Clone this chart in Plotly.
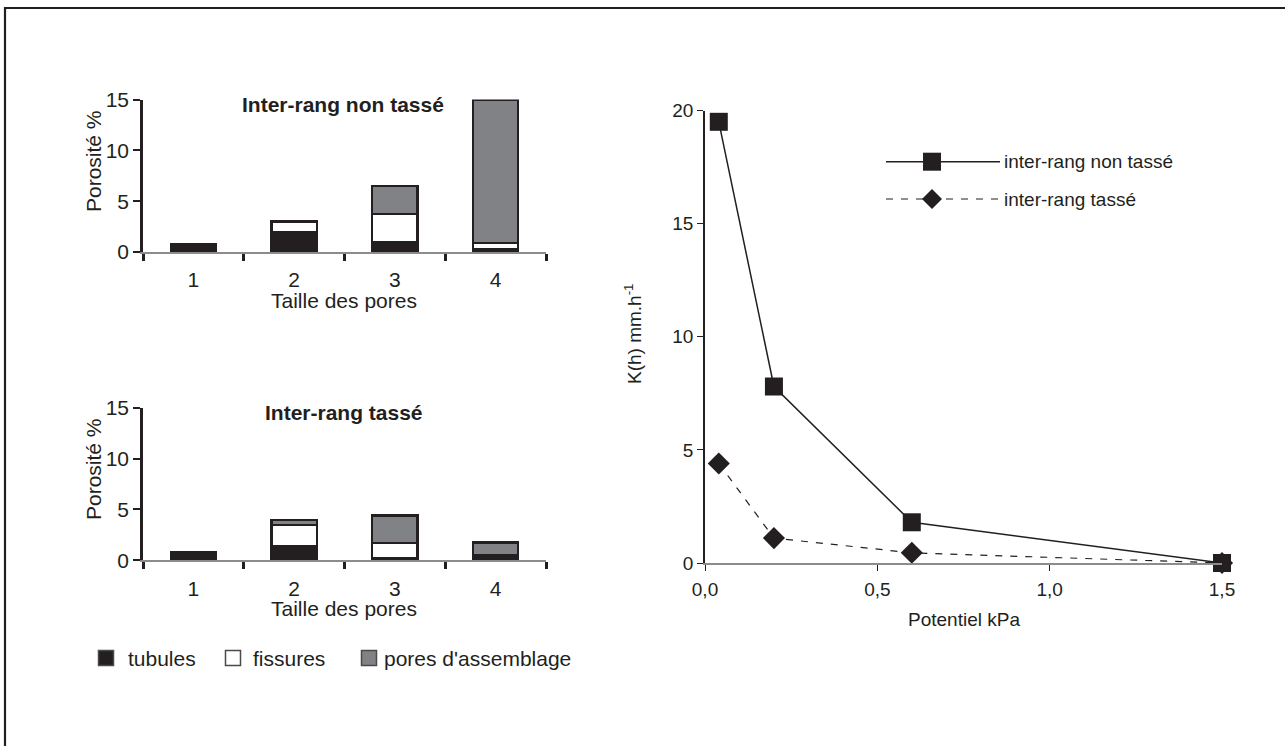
import plotly.graph_objects as go

W, H = 1285, 746


def px(x):
    """pixel x -> paper fraction"""
    return x / W


def py(y):
    """pixel y (from top) -> paper fraction"""
    return 1 - y / H


INK = "#231f20"
AXIS_GREY = "#8c8c8c"
FONT = "Liberation Sans, Arial, Helvetica, sans-serif"

# ---------------- data ----------------
pore_sizes = ["1", "2", "3", "4"]
# Inter-rang non tassé (porosité %)
nt_tubules = [0.8, 2.0, 1.0, 0.3]
nt_fissures = [None, 1.0, 2.7, 0.6]
nt_assemblage = [None, None, 2.8, 14.1]
# Inter-rang tassé (porosité %)
t_tubules = [0.8, 1.4, 0.2, 0.55]
t_fissures = [None, 2.1, 1.5, None]
t_assemblage = [None, 0.5, 2.7, 1.2]

# K(h) vs potentiel
potentiel = [0.04, 0.2, 0.6, 1.5]
k_non_tasse = [19.5, 7.8, 1.8, 0.0]
k_tasse = [4.4, 1.1, 0.45, 0.0]

bar_series = ["tubules", "fissures", "pores d'assemblage"]
bar_colors = [INK, "#ffffff", "#808285"]
line_series = ["inter-rang non tassé", "inter-rang tassé"]

fig = go.Figure()

# ---------------- bars ----------------
for (xa, ya, vals) in [
    ("x", "y", [nt_tubules, nt_fissures, nt_assemblage]),
    ("x2", "y2", [t_tubules, t_fissures, t_assemblage]),
]:
    for name, color, v in zip(bar_series, bar_colors, vals):
        fig.add_trace(go.Bar(
            x=pore_sizes, y=v, name=name, width=0.45,
            marker=dict(color=color, line=dict(color=INK, width=2.2)),
            xaxis=xa, yaxis=ya, showlegend=False,
        ))

# ---------------- lines ----------------
fig.add_trace(go.Scatter(
    x=potentiel, y=k_tasse, name=line_series[1], mode="lines+markers",
    line=dict(color=INK, width=1.2, dash="7px,8px"),
    marker=dict(symbol="diamond", size=17, color=INK),
    xaxis="x3", yaxis="y3", cliponaxis=False, showlegend=False,
))
fig.add_trace(go.Scatter(
    x=potentiel, y=k_non_tasse, name=line_series[0], mode="lines+markers",
    line=dict(color=INK, width=1.5),
    marker=dict(symbol="square", size=18, color=INK),
    xaxis="x3", yaxis="y3", cliponaxis=False, showlegend=False,
))

# ---------------- axes ----------------
LEFT_FS = 21
RIGHT_FS = 19
LEG_FS = 19

bar_x = dict(
    type="category", range=[-0.5, 3.5], tickson="boundaries",
    ticks="outside", ticklen=7, tickwidth=2.5, tickcolor=INK,
    ticklabelstandoff=8,
    showline=True, linecolor=AXIS_GREY, linewidth=2,
    showgrid=False, zeroline=False, automargin=False,
    tickfont=dict(size=LEFT_FS, color=INK),
)
bar_y = dict(
    range=[0, 15], tickvals=[0, 5, 10, 15],
    ticks="outside", ticklen=7, tickwidth=1.5, tickcolor=INK,
    showline=True, linecolor=INK, linewidth=2.5,
    showgrid=False, zeroline=False, automargin=False,
    tickfont=dict(size=LEFT_FS, color=INK),
)

fig.update_layout(
    xaxis=dict(bar_x, domain=[px(143), px(546)], anchor="y"),
    yaxis=dict(bar_y, domain=[py(252), py(99.5)], anchor="x"),
    xaxis2=dict(bar_x, domain=[px(143), px(546)], anchor="y2"),
    yaxis2=dict(bar_y, domain=[py(560.3), py(407.7)], anchor="x2"),
    xaxis3=dict(
        domain=[px(705), px(1222)], anchor="y3", range=[0, 1.5],
        tickvals=[0, 0.5, 1.0, 1.5], tickformat=".1f",
        ticks="outside", ticklen=6, tickwidth=1.2, tickcolor=INK,
        ticklabelstandoff=2,
        showline=True, linecolor=AXIS_GREY, linewidth=1.5,
        showgrid=False, zeroline=False, automargin=False,
        tickfont=dict(size=RIGHT_FS, color=INK),
    ),
    yaxis3=dict(
        domain=[py(563), py(110.5)], anchor="x3", range=[0, 20],
        tickvals=[0, 5, 10, 15, 20],
        ticks="outside", ticklen=6, tickwidth=1.2, tickcolor=INK,
        showline=True, linecolor=INK, linewidth=1.5,
        showgrid=False, zeroline=False, automargin=False,
        tickfont=dict(size=RIGHT_FS, color=INK),
    ),
)

# ---------------- text ----------------
ann = []


def txt(text, x, y, size=LEFT_FS, angle=0, xanchor="center", bold=False):
    ann.append(dict(
        text=f"<b>{text}</b>" if bold else text,
        x=px(x), y=py(y), xref="paper", yref="paper",
        xanchor=xanchor, yanchor="middle", showarrow=False,
        textangle=angle, font=dict(size=size, color=INK, family=FONT),
    ))


txt("Inter-rang non tassé", 343, 105, bold=True)
txt("Inter-rang tassé", 344, 412, bold=True)
txt("Porosité %", 93, 161, angle=-90)
txt("Porosité %", 93, 469, angle=-90)
txt("Taille des pores", 344, 300)
txt("Taille des pores", 344, 608)
txt("Potentiel kPa", 964, 619, size=RIGHT_FS)
txt("K(h) mm.h<sup>-1</sup>", 633, 334, size=RIGHT_FS, angle=-90)

# bar legend
shapes = []
legend_x = [106, 233, 369]
legend_text_x = [126, 251, 382]
for cx, tx, label, color in zip(legend_x, legend_text_x, bar_series, bar_colors):
    s = 7.5
    shapes.append(dict(type="rect", xref="paper", yref="paper",
                       x0=px(cx - s), x1=px(cx + s), y0=py(658 + s), y1=py(658 - s),
                       fillcolor=color, line=dict(color="#4a4a4a", width=1.5)))
    txt(label, tx, 658, xanchor="left")

# line legend
for (ly, label, dash, sym) in [(161.7, line_series[0], "solid", "square"),
                               (199, line_series[1], "7px,8px", "diamond")]:
    shapes.append(dict(type="line", xref="paper", yref="paper",
                       x0=px(886), x1=px(1000), y0=py(ly), y1=py(ly),
                       line=dict(color=INK, width=1.5 if dash == "solid" else 1.2, dash=dash)))
    cx = 932
    if sym == "square":
        s = 9
        shapes.append(dict(type="rect", xref="paper", yref="paper",
                           x0=px(cx - s), x1=px(cx + s), y0=py(ly + s), y1=py(ly - s),
                           fillcolor=INK, line=dict(color=INK, width=0)))
    else:
        s = 10
        path = (f"M {px(cx - s)} {py(ly)} L {px(cx)} {py(ly - s)} "
                f"L {px(cx + s)} {py(ly)} L {px(cx)} {py(ly + s)} Z")
        shapes.append(dict(type="path", xref="paper", yref="paper", path=path,
                           fillcolor=INK, line=dict(color=INK, width=0)))
    txt(label, 1002, ly, size=LEG_FS, xanchor="left")

# outer frame (left and top edges visible, right/bottom run off the page)
shapes.append(dict(type="rect", xref="paper", yref="paper",
                   x0=px(5), x1=px(W + 30), y0=py(H + 30), y1=py(8),
                   line=dict(color=INK, width=2.2), fillcolor="rgba(0,0,0,0)", layer="above"))

fig.update_layout(
    width=W, height=H, margin=dict(l=0, r=0, t=0, b=0, autoexpand=False),
    paper_bgcolor="white", plot_bgcolor="rgba(0,0,0,0)",
    barmode="stack", showlegend=False, separators=", ",
    font=dict(family=FONT, color=INK, size=LEFT_FS),
    annotations=ann, shapes=shapes,
)

fig.write_html("out.html")
